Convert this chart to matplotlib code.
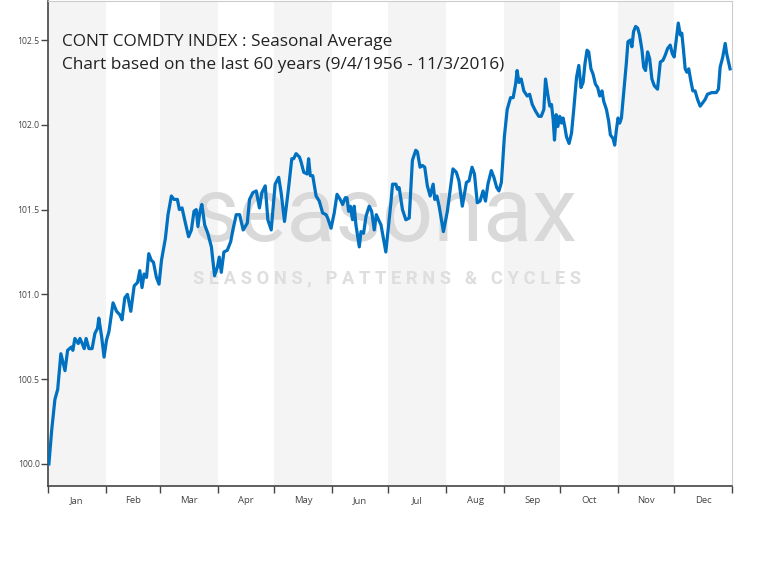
import numpy as np
import matplotlib
matplotlib.use("Agg")
import matplotlib.pyplot as plt

plt.rcParams['font.family'] = ['Open Sans', 'DejaVu Sans']

# seasonal average, day of year vs index value
days = [0.5, 2.0, 3.7, 5.2, 6.9, 9.1, 10.5, 12.6, 13.3, 14.4, 16.2, 17.1, 18.3, 19.4,
        20.4, 21.9, 23.6, 25.1, 26.5, 27.2, 28.7, 30.0, 31.3, 32.6, 34.8, 36.7, 38.4,
        39.6, 41.1, 42.5, 44.3, 46.1, 47.9, 49.1, 50.3, 51.4, 52.7, 53.9, 55.3, 56.4,
        58.0, 59.4, 60.7, 62.8, 64.2, 66.0, 67.4, 69.2, 70.3, 71.7, 73.5, 75.2, 76.7,
        78.1, 79.3, 80.2, 81.3, 82.3, 83.8, 85.5, 87.4, 89.1, 90.6, 91.6, 92.7, 94.1,
        95.9, 97.7, 98.9, 100.7, 102.5, 104.4, 106.6, 107.8, 109.6, 111.4, 113.1, 114.4,
        116.2, 117.6, 119.4, 121.5, 123.4, 124.7, 126.5, 128.6, 130.4, 131.4, 132.7,
        134.5, 135.4, 136.8, 138.6, 139.4, 140.3, 141.6, 143.4, 145.1, 146.9, 148.7,
        149.6, 151.4, 153.1, 154.6, 156.3, 157.6, 159.0, 159.9, 160.8, 161.7, 162.9,
        163.8, 164.7, 166.5, 167.4, 168.8, 170.1, 171.8, 173.1, 174.5, 175.6, 176.8,
        178.1, 180.7, 183.4, 184.3, 186.1, 186.9, 187.8, 189.6, 191.4, 193.2, 194.9,
        196.7, 197.6, 199.0, 200.3, 201.5, 202.9, 204.4, 206.0, 206.9, 208.0, 209.2,
        211.5, 213.6, 216.6, 218.4, 219.8, 221.6, 223.8, 225.2, 226.8, 228.1, 229.6,
        231.1, 232.7, 234.0, 235.3, 237.1, 238.5, 240.0, 241.2, 242.5, 244.1, 245.6,
        247.4, 248.8, 250.1, 250.9, 251.9, 253.1, 254.5, 256.3, 257.6, 259.0, 260.8,
        262.5, 263.8, 265.2, 266.1, 267.3, 268.4, 269.3, 270.2, 270.9, 271.8, 272.7,
        273.7, 274.7, 275.5, 276.4, 277.3, 278.7, 280.0, 281.2, 282.7, 283.9, 285.1,
        286.2, 287.2, 288.3, 289.2, 290.4, 291.5, 292.8, 294.0, 295.1, 296.3, 297.2,
        298.7, 299.9, 300.8, 302.2, 303.1, 304.0, 304.9, 305.8, 306.7, 307.9, 309.3,
        310.2, 311.5, 312.3, 313.2, 314.3, 315.4, 316.4, 317.7, 318.6, 319.6, 320.7,
        321.8, 323.0, 324.3, 326.0, 327.5, 328.9, 330.1, 331.4, 332.8, 333.9, 334.9,
        336.0, 337.1, 338.2, 339.0, 339.9, 340.8, 341.7, 342.7, 343.8, 344.9, 346.1,
        347.4, 348.8, 350.2, 351.5, 352.7, 355.0, 357.4, 358.6, 359.5, 360.9, 362.2,
        363.0, 364.8]

values = [100.00, 100.20, 100.38, 100.44, 100.65, 100.55, 100.67, 100.69, 100.67, 100.74,
          100.71, 100.74, 100.71, 100.68, 100.74, 100.68, 100.68, 100.77, 100.80, 100.86,
          100.75, 100.63, 100.73, 100.78, 100.95, 100.90, 100.88, 100.85, 100.98, 101.00,
          100.90, 101.05, 101.07, 101.14, 101.04, 101.12, 101.10, 101.24, 101.20, 101.19,
          101.10, 101.06, 101.20, 101.33, 101.47, 101.58, 101.56, 101.56, 101.50, 101.51,
          101.42, 101.34, 101.38, 101.49, 101.50, 101.40, 101.49, 101.53, 101.41, 101.36,
          101.28, 101.11, 101.16, 101.22, 101.13, 101.25, 101.26, 101.31, 101.38, 101.47,
          101.47, 101.38, 101.42, 101.56, 101.60, 101.61, 101.51, 101.60, 101.64, 101.44,
          101.38, 101.65, 101.69, 101.60, 101.43, 101.62, 101.80, 101.80, 101.83, 101.81,
          101.78, 101.72, 101.71, 101.80, 101.70, 101.70, 101.58, 101.55, 101.48, 101.47,
          101.45, 101.39, 101.48, 101.59, 101.56, 101.53, 101.57, 101.57, 101.49, 101.52,
          101.44, 101.52, 101.41, 101.28, 101.37, 101.36, 101.46, 101.52, 101.49, 101.38,
          101.47, 101.44, 101.41, 101.25, 101.54, 101.65, 101.65, 101.62, 101.63, 101.50,
          101.44, 101.45, 101.79, 101.85, 101.84, 101.75, 101.76, 101.75, 101.64, 101.58,
          101.65, 101.56, 101.58, 101.52, 101.37, 101.49, 101.74, 101.72, 101.67, 101.52,
          101.66, 101.67, 101.75, 101.71, 101.54, 101.55, 101.61, 101.55, 101.65, 101.73,
          101.69, 101.63, 101.61, 101.66, 101.93, 102.09, 102.16, 102.16, 102.24, 102.32,
          102.25, 102.27, 102.20, 102.17, 102.18, 102.12, 102.08, 102.05, 102.05, 102.09,
          102.27, 102.18, 102.11, 102.12, 102.03, 101.91, 102.06, 101.99, 102.05, 102.01,
          102.04, 101.99, 101.93, 101.89, 101.95, 102.09, 102.28, 102.35, 102.22, 102.25,
          102.36, 102.44, 102.43, 102.33, 102.30, 102.24, 102.22, 102.17, 102.20, 102.14,
          102.09, 102.02, 101.94, 101.92, 101.88, 101.97, 102.04, 102.01, 102.04, 102.19,
          102.36, 102.49, 102.50, 102.46, 102.55, 102.58, 102.57, 102.53, 102.44, 102.34,
          102.32, 102.43, 102.39, 102.27, 102.23, 102.21, 102.37, 102.38, 102.41, 102.45,
          102.47, 102.42, 102.40, 102.50, 102.60, 102.53, 102.54, 102.44, 102.33, 102.31,
          102.33, 102.26, 102.20, 102.20, 102.15, 102.11, 102.13, 102.15, 102.18, 102.19,
          102.19, 102.21, 102.34, 102.40, 102.48, 102.42, 102.33]

months = ["Jan", "Feb", "Mar", "Apr", "May", "Jun", "Jul", "Aug", "Sep", "Oct", "Nov", "Dec"]
month_days = [31, 29, 31, 30, 31, 30, 31, 31, 30, 31, 30, 31]
yticks = [100.0, 100.5, 101.0, 101.5, 102.0, 102.5]

title_1 = "CONT COMDTY INDEX : Seasonal Average"
title_2 = "Chart based on the last 60 years (9/4/1956 - 11/3/2016)"

edges = np.concatenate([[0], np.cumsum(month_days)])
mids = (edges[:-1] + edges[1:]) / 2

fig = plt.figure(figsize=(7.75, 5.67), dpi=100)
ax = fig.add_axes([0.0619, 0.1429, 0.8830, 0.8553])

# alternating month bands
for i in range(12):
    if i % 2 == 0:
        ax.axvspan(edges[i], edges[i + 1], color="#f4f4f4", lw=0, zorder=0)

# watermark
ax.text(0.212, 0.505, "seasonax", transform=ax.transAxes, fontsize=65,
        color="#d9d9d9", family="Roboto", fontweight="normal", va="baseline", ha="left", zorder=1)
ax.text(0.212, 0.428, "S E A S O N S ,   P A T T E R N S   &   C Y C L E S",
        transform=ax.transAxes, fontsize=13.2, color="#dedede", family="Roboto",
        fontweight="bold", va="center", ha="left", zorder=1)

ax.plot(days, values, color="#0070c0", lw=2.3, zorder=3, solid_joinstyle="round")

# two title lines placed separately to get the wider line gap
ax.text(0.02, 0.915, title_1, transform=ax.transAxes, fontsize=12.4, color="#222222",
        va="center", ha="left", zorder=4)
ax.text(0.02, 0.868, title_2, transform=ax.transAxes, fontsize=12.4, color="#222222",
        va="center", ha="left", zorder=4)

ax.set_xlim(0, 366)
ax.set_ylim(99.870, 102.730)

ax.set_xticks(edges)
ax.set_xticklabels([])
ax.set_xticks(mids, minor=True)
ax.set_xticklabels(months, minor=True)
ax.tick_params(axis="x", which="major", length=5, width=1, color="#444444", direction="out")
ax.tick_params(axis="x", which="minor", length=0, labelsize=6.8, labelcolor="#444444", pad=7)

ax.set_yticks(yticks)
ax.set_yticklabels(["%.1f" % v for v in yticks])
ax.tick_params(axis="y", length=5, width=1, color="#444444", labelsize=6.2,
               labelcolor="#444444", pad=1)

ax.spines["left"].set_color("#444444")
ax.spines["bottom"].set_color("#444444")
ax.spines["left"].set_linewidth(1.2)
ax.spines["bottom"].set_linewidth(1.2)
ax.spines["top"].set_color("#cccccc")
ax.spines["right"].set_color("#cccccc")

fig.savefig("out.png", dpi=100, facecolor="white")
